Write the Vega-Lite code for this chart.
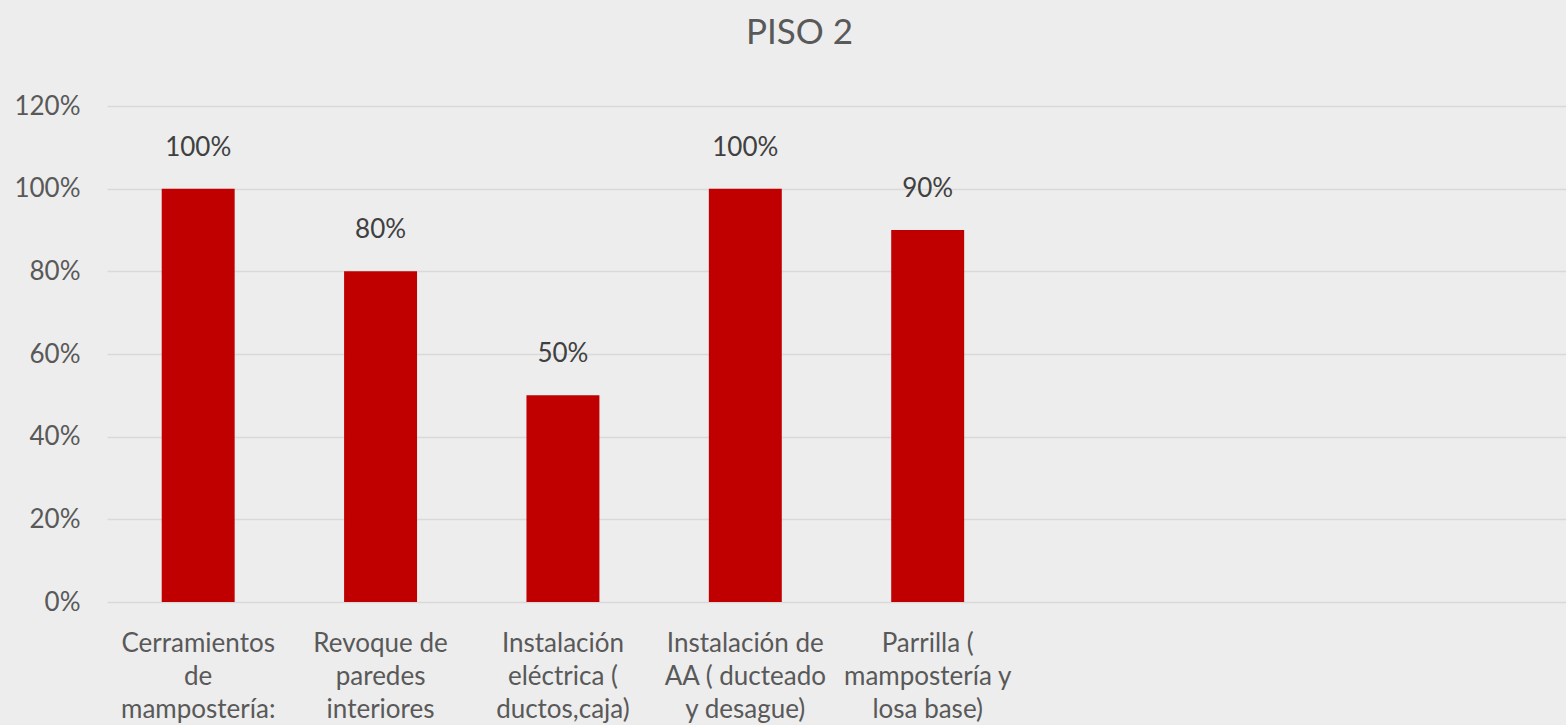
{
  "$schema": "https://vega.github.io/schema/vega-lite/v6.json",
  "autosize": "none",
  "width": 1459,
  "height": 496,
  "padding": {"left": 107, "top": 106, "right": 0, "bottom": 123},
  "background": "#EDEDED",
  "title": {
    "text": "PISO 2",
    "fontSize": 35,
    "font": "Lato",
    "fontWeight": "normal",
    "color": "#595959",
    "anchor": "middle",
    "dx": -37,
    "offset": 42
  },
  "config": {
    "view": {"stroke": null},
    "font": "Lato",
    "axis": {
      "labelFont": "Lato",
      "labelColor": "#595959",
      "labelFontSize": 26,
      "ticks": false,
      "domain": false,
      "title": null
    }
  },
  "data": {
    "values": [
      {"cat": "Cerramientos|de|mampostería:", "value": 1.0},
      {"cat": "Revoque de|paredes|interiores", "value": 0.8},
      {"cat": "Instalación|eléctrica (|ductos,caja)", "value": 0.5},
      {"cat": "Instalación de|AA ( ducteado|y desague)", "value": 1.0},
      {"cat": "Parrilla (|mampostería y|losa base)", "value": 0.9}
    ]
  },
  "encoding": {
    "x": {
      "field": "cat",
      "type": "nominal",
      "sort": null,
      "scale": {
        "domain": [
          "Cerramientos|de|mampostería:",
          "Revoque de|paredes|interiores",
          "Instalación|eléctrica (|ductos,caja)",
          "Instalación de|AA ( ducteado|y desague)",
          "Parrilla (|mampostería y|losa base)",
          "_6", "_7", "_8"
        ],
        "paddingInner": 0.6,
        "paddingOuter": 0.3
      },
      "axis": {
        "labelAngle": 0,
        "labelExpr": "indexof(datum.value, '_') == 0 ? '' : split(datum.value, '|')",
        "labelPadding": 28,
        "labelLineHeight": 33,
        "labelBaseline": "top",
        "grid": false
      }
    },
    "y": {
      "field": "value",
      "type": "quantitative",
      "scale": {"domain": [0, 1.2]},
      "axis": {
        "values": [0, 0.2, 0.4, 0.6, 0.8, 1.0, 1.2],
        "format": ".0%",
        "grid": true,
        "gridColor": "#D9D9D9",
        "gridWidth": 1.5,
        "labelPadding": 27
      }
    }
  },
  "layer": [
    {"mark": {"type": "bar", "color": "#C00000"}},
    {
      "mark": {
        "type": "text",
        "baseline": "bottom",
        "dy": -28,
        "fontSize": 26,
        "color": "#404040",
        "font": "Lato"
      },
      "encoding": {"text": {"field": "value", "type": "quantitative", "format": ".0%"}}
    }
  ]
}
